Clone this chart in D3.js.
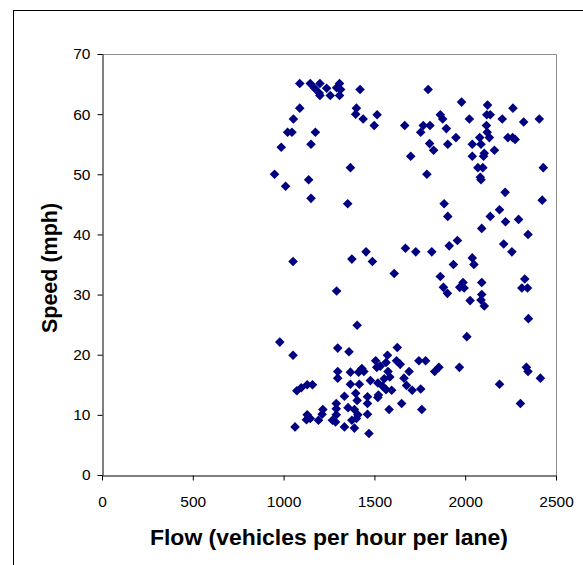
<!DOCTYPE html>
<html>
<head>
<meta charset="utf-8">
<script src="https://cdn.jsdelivr.net/npm/d3@7"></script>
<style>
  html, body { margin: 0; padding: 0; background: #fff; }
  svg { display: block; }
  text { font-family: Arial, "Liberation Sans", sans-serif; fill: #000; }
</style>
</head>
<body>
<svg id="chart" width="583" height="565"></svg>
<script>
// Observed traffic flow (veh/h/lane) and matching spot speed (mph)
const flow = [
  1089, 1147, 1200, 1171, 1196, 1200, 1237, 1257, 1292, 1308, 1314, 1308, 1421,
  1089, 1054, 1022, 1046, 1175, 987, 1151, 950, 1011, 1138, 1151, 1368, 1353,
  1401, 1397, 1438, 1515, 1499,
  1796, 1980, 1667, 1769, 1806, 1755, 1700, 1789, 1804, 1826, 1863, 1876, 1896,
  1904, 1949, 2023, 2039, 2039, 2080, 2087, 2070, 2097, 2083, 2087, 2101, 2105,
  2117, 2121, 2123, 2119, 2138, 2133, 2161, 2204, 2235, 2263, 2261, 2275, 2322,
  2408, 2430, 2424,
  1052, 1292, 1376, 1405, 1454, 1489, 1609, 1671, 1728, 1816, 1884, 1904, 1912,
  1957, 1935, 1863, 1880, 1902, 1970, 1988, 1994, 2027, 2039, 2048, 2091, 2091,
  2091, 2087, 2105, 2138, 2189, 2220, 2222, 2212, 2257, 2294, 2346, 2328, 2312,
  2343, 2348, 2009,
  979, 1052, 1063, 1073, 1097, 1130, 1159, 1130, 1126, 1147, 1192, 1216, 1212,
  1269, 1286, 1290, 1290, 1290, 1298, 1298, 1298, 1335, 1335, 1360, 1368, 1368,
  1355, 1376, 1390, 1390, 1397, 1405, 1401, 1409, 1413, 1417, 1431, 1442, 1462,
  1462, 1462, 1470, 1478, 1507, 1513, 1519, 1519, 1532, 1544, 1554, 1564, 1564,
  1572, 1575, 1585, 1581, 1595, 1622, 1626, 1642, 1650, 1663, 1677, 1691, 1708,
  1745, 1755, 1761, 1782, 1832, 1855, 1968, 2189, 2304, 2337, 2346, 2414, 1522
];
const speed = [
  65.1, 65.1, 65.1, 64.3, 63.5, 63.1, 64.3, 63.1, 64.4, 65.1, 64.1, 63.1, 64.1,
  61.0, 59.2, 57.0, 57.0, 57.0, 54.5, 55.0, 50.0, 48.0, 49.1, 46.0, 51.1, 45.1,
  61.0, 60.0, 59.2, 59.9, 58.1,
  64.1, 62.0, 58.1, 58.1, 58.1, 57.0, 53.0, 50.0, 55.1, 54.0, 59.9, 59.2, 57.6,
  55.0, 56.1, 59.2, 55.0, 53.0, 56.1, 55.0, 51.1, 51.1, 49.5, 49.1, 53.0, 53.5,
  58.1, 57.0, 61.5, 59.9, 59.9, 56.1, 54.0, 59.2, 56.1, 61.0, 56.1, 55.8, 58.7,
  59.2, 51.1, 45.7,
  35.5, 30.6, 35.9, 24.9, 37.1, 35.5, 33.5, 37.7, 37.1, 37.1, 45.1, 43.0, 38.1,
  39.0, 35.0, 33.0, 31.2, 30.2, 31.2, 32.0, 31.1, 29.0, 36.1, 35.0, 32.0, 30.0,
  41.0, 29.1, 28.1, 43.0, 44.1, 47.0, 42.1, 38.4, 37.1, 42.5, 40.0, 32.6, 31.1,
  31.1, 26.0, 23.0,
  22.1, 19.9, 8.0, 14.0, 14.5, 15.0, 15.0, 10.0, 9.2, 9.4, 9.1, 10.9, 10.1,
  9.1, 8.8, 11.9, 11.0, 10.0, 16.1, 17.2, 21.1, 13.1, 8.0, 20.5, 17.1, 15.1,
  11.2, 9.1, 7.8, 10.9, 13.6, 12.4, 9.4, 10.0, 17.1, 15.1, 17.7, 17.2, 13.0,
  11.9, 10.1, 6.9, 15.7, 19.0, 17.9, 12.9, 15.3, 18.1, 14.8, 16.0, 18.7, 14.2,
  19.9, 17.2, 16.3, 10.9, 14.1, 19.0, 21.2, 18.4, 11.9, 16.1, 14.9, 17.2, 14.1,
  19.0, 14.3, 10.9, 19.0, 17.2, 17.9, 17.9, 15.1, 11.9, 17.9, 17.2, 16.1, 13.3
];
const xTicks = [0, 500, 1000, 1500, 2000, 2500];
const yTicks = [0, 10, 20, 30, 40, 50, 60, 70];
const xTitle = "Flow (vehicles per hour per lane)";
const yTitle = "Speed (mph)";

const svg = d3.select("#chart");

// outer chart frame (runs off the right and bottom edges)
svg.append("rect")
  .attr("x", 13.5).attr("y", 10.5)
  .attr("width", 700).attr("height", 700)
  .attr("fill", "none").attr("stroke", "#000").attr("stroke-width", 1);

const plotL = 102, plotR = 556, plotT = 54, plotB = 475;
const x = d3.scaleLinear().domain([0, 2500]).range([plotL, plotR]);
const y = d3.scaleLinear().domain([0, 70]).range([plotB, plotT]);

// plot area border (top and right)
svg.append("path")
  .attr("d", `M${plotL},${plotT + 0.5}H${plotR + 0.5}V${plotB}`)
  .attr("fill", "none").attr("stroke", "#8c8c8c").attr("stroke-width", 1);

const xAxis = svg.append("g")
  .attr("transform", `translate(0,${plotB + 0.5})`)
  .call(d3.axisBottom(x).tickValues(xTicks).tickSize(5).tickSizeOuter(0).tickPadding(15).tickFormat(d3.format("d")));
const yAxis = svg.append("g")
  .attr("transform", `translate(${plotL + 0.5},0)`)
  .call(d3.axisLeft(y).tickValues(yTicks).tickSize(5).tickSizeOuter(0).tickPadding(7).tickFormat(d3.format("d")));

[xAxis, yAxis].forEach(g => {
  g.selectAll("path, line").attr("stroke", "#000");
  g.selectAll("text").style("font-size", "15.5px").attr("fill", "#000");
  g.attr("font-family", null);
});

// diamond markers
const r = 4.8;
const diamond = `M0,${-r}L${r},0L0,${r}L${-r},0Z`;
svg.append("g").selectAll("path")
  .data(d3.range(flow.length))
  .join("path")
  .attr("d", diamond)
  .attr("transform", i => `translate(${x(flow[i])},${y(speed[i])})`)
  .attr("fill", "#000080");

svg.append("text")
  .attr("x", (plotL + plotR) / 2).attr("y", 545)
  .attr("text-anchor", "middle")
  .attr("textLength", 358).attr("lengthAdjust", "spacingAndGlyphs")
  .style("font-size", "21.5px").style("font-weight", "bold")
  .text(xTitle);

svg.append("text")
  .attr("transform", `translate(57,268) rotate(-90)`)
  .attr("text-anchor", "middle")
  .style("font-size", "21.5px").style("font-weight", "bold")
  .text(yTitle);
</script>
</body>
</html>
